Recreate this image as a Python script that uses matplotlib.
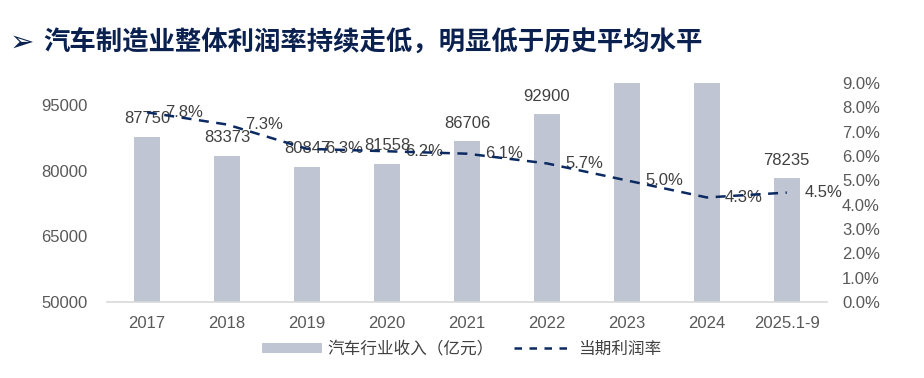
import matplotlib
matplotlib.use("Agg")
import matplotlib.pyplot as plt
from matplotlib.patches import Patch
from matplotlib.lines import Line2D

plt.rcParams["font.family"] = ["Liberation Sans", "Noto Sans CJK SC", "DejaVu Sans"]

# ── data ──────────────────────────────────────────────────────────────────────
years = ["2017", "2018", "2019", "2020", "2021", "2022", "2023", "2024", "2025.1-9"]
revenue = [87750, 83373, 80847, 81558, 86706, 92900, 100976, 106196, 78235]   # 亿元
margin = [7.8, 7.3, 6.3, 6.2, 6.1, 5.7, 5.0, 4.3, 4.5]                         # %

title = "汽车制造业整体利润率持续走低，明显低于历史平均水平"
bar_label = "汽车行业收入（亿元）"
line_label = "当期利润率"

BAR_C = "#BFC5D2"
LINE_C = "#0B2A62"
TITLE_C = "#0A2150"
TXT_C = "#404040"
TICK_C = "#595959"

# ── figure ────────────────────────────────────────────────────────────────────
fig = plt.figure(figsize=(9.24, 3.78), dpi=100)
ax = fig.add_axes([0.1158, 0.201, 0.779, 0.579])
x = list(range(len(years)))

ax.bar(x, revenue, width=0.325, color=BAR_C, zorder=2)
ax.set_xlim(-0.5, len(years) - 0.5)
ax.set_ylim(50000, 100000)
ax.set_yticks([50000, 65000, 80000, 95000])
ax.set_xticks(x)
ax.set_xticklabels(years)
ax.tick_params(axis="y", length=0, pad=14, labelsize=12, labelcolor=TICK_C)
ax.tick_params(axis="x", length=0, pad=10, labelsize=12, labelcolor=TICK_C)
for s in ["top", "right", "left"]:
    ax.spines[s].set_visible(False)
ax.spines["bottom"].set_color("#D9D9D9")
ax.spines["bottom"].set_linewidth(1.2)
ax.spines["bottom"].set_zorder(3)

# bars above 100000 run off the top, their labels are clipped like the original
for xi, v in zip(x, revenue):
    ax.annotate(f"{v}", (xi, v), xytext=(0, 13), textcoords="offset points",
                ha="center", va="center", fontsize=12, color=TXT_C)

# ── profit margin (right axis) ────────────────────────────────────────────────
ax2 = ax.twinx()
ax2.plot(x, margin, color=LINE_C, lw=1.8, ls=(0, (4, 3)), zorder=4)
ax2.set_ylim(0, 9)
ax2.set_yticks(range(0, 10))
ax2.set_yticklabels([f"{t:.1f}%" for t in range(0, 10)])
ax2.tick_params(axis="y", length=0, pad=11, labelsize=12, labelcolor=TICK_C)
for s in ax2.spines.values():
    s.set_visible(False)

for xi, m in zip(x, margin):
    ax2.annotate(f"{m:.1f}%", (xi, m), xytext=(13, 0), textcoords="offset points",
                 ha="left", va="center", fontsize=12, color=TXT_C)

# ── title ─────────────────────────────────────────────────────────────────────
fig.text(0.011, 0.886, "➢", fontsize=21, color=TITLE_C, va="center",
         family=["DejaVu Sans"])
fig.text(0.047, 0.886, title, fontsize=19, fontweight="bold", color=TITLE_C,
         va="center", family=["Noto Sans CJK SC", "DejaVu Sans"])

# ── legend ────────────────────────────────────────────────────────────────────
handles = [Patch(facecolor=BAR_C, edgecolor="none"),
           Line2D([0], [0], color=LINE_C, lw=1.8, ls=(0, (3, 3)))]
fig.legend(handles, [bar_label, line_label], loc="center", ncol=2,
           bbox_to_anchor=(0.5, 0.077), frameon=False, fontsize=12,
           handlelength=3.6, handleheight=0.6, columnspacing=1.2,
           handletextpad=0.3, labelcolor=TXT_C)

fig.savefig("out.png", dpi=100)
